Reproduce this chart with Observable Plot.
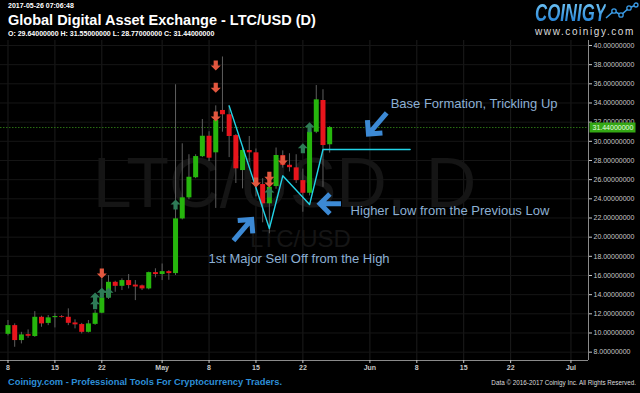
<!DOCTYPE html>
<html><head><meta charset="utf-8">
<script src="https://cdn.jsdelivr.net/npm/d3@7"></script>
<script src="https://cdn.jsdelivr.net/npm/@observablehq/plot@0.6"></script>
<style>
html,body{margin:0;padding:0;background:#000;}
#wrap{position:relative;width:640px;height:393px;overflow:hidden;background:#000;font-family:"Liberation Sans",Arial,sans-serif;color:#fff;}
#wrap div.t{position:absolute;white-space:nowrap;line-height:1;}
#ts{left:8px;top:2px;font-size:7px;font-weight:bold;}
#title{left:8px;top:13px;font-size:14.5px;font-weight:bold;}
#ohlc{left:8px;top:30px;font-size:7px;font-weight:bold;}
#logo{left:535px;top:1px;font-size:24px;font-weight:bold;font-style:italic;transform:scaleX(0.7);transform-origin:0 0;
 background:linear-gradient(#74c8f7,#1b7ad2);-webkit-background-clip:text;background-clip:text;color:transparent;}
#www{left:535px;top:27px;font-size:10px;letter-spacing:1.6px;color:#ddd;}
#icon{position:absolute;left:603px;top:2px;}
#chart{position:absolute;left:0;top:40px;}
#foot1{left:8px;top:378px;font-size:9.3px;font-weight:bold;color:#2d8fd8;}
#foot2{right:4px;top:380px;font-size:6.3px;color:#ddd;}
</style></head><body>
<div id="wrap">
 <div class="t" id="ts">2017-05-26 07:06:48</div>
 <div class="t" id="title">Global Digital Asset Exchange - LTC/USD (D)</div>
 <div class="t" id="ohlc"></div>
 <div class="t" id="logo">COINIGY</div>
 <svg id="icon" width="36" height="20"><polyline points="3,16 11,9 18,13 26,6 33,3" fill="none" stroke="#3a9be6" stroke-width="1.5"/><g fill="#000" stroke="#3a9be6" stroke-width="1.3"><circle cx="11" cy="9" r="2.2"/><circle cx="18" cy="13" r="2.2"/><circle cx="26" cy="6" r="2.2"/><circle cx="33" cy="3" r="2"/></g></svg>
 <div class="t" id="www">www.coinigy.com</div>
 <div id="chart"></div>
 <div class="t" id="foot1">Coinigy.com - Professional Tools For Cryptocurrency Traders.</div>
 <div class="t" id="foot2">Data © 2016-2017 Coinigy Inc. All Rights Reserved.</div>
</div>
<script>
// ---- daily candles (LTC/USD) ----
const dates = ["2017-04-08","2017-04-09","2017-04-10","2017-04-11","2017-04-12","2017-04-13","2017-04-14","2017-04-15","2017-04-16","2017-04-17","2017-04-18","2017-04-19","2017-04-20","2017-04-21","2017-04-22","2017-04-23","2017-04-24","2017-04-25","2017-04-26","2017-04-27","2017-04-28","2017-04-29","2017-04-30","2017-05-01","2017-05-02","2017-05-03","2017-05-04","2017-05-05","2017-05-06","2017-05-07","2017-05-08","2017-05-09","2017-05-10","2017-05-11","2017-05-12","2017-05-13","2017-05-14","2017-05-15","2017-05-16","2017-05-17","2017-05-18","2017-05-19","2017-05-20","2017-05-21","2017-05-22","2017-05-23","2017-05-24","2017-05-25","2017-05-26"];
const opens  = [9.86,10.77,9.21,9.83,9.63,11.64,11.00,11.60,11.70,11.64,11.05,10.88,10.07,10.90,12.06,13.66,15.29,14.87,15.47,15.00,14.92,14.60,16.30,16.10,16.40,16.20,21.90,24.10,26.20,28.40,30.53,28.80,33.22,32.77,30.60,26.95,29.04,28.80,25.49,23.48,25.28,28.50,27.50,27.23,25.90,24.58,30.95,34.26,29.64];
const highs  = [11.30,10.95,10.07,10.32,12.23,11.75,11.82,12.06,11.82,12.52,11.37,11.00,11.30,12.34,15.65,15.99,15.40,15.65,16.10,15.47,15.00,16.35,16.70,17.20,16.50,35.90,29.74,28.60,28.60,32.28,31.00,33.70,38.80,33.70,30.70,29.40,30.50,29.20,26.10,25.70,29.30,29.00,28.70,28.60,27.10,31.50,35.82,35.38,31.55];
const lows   = [9.70,8.51,8.86,9.45,9.55,10.60,10.77,10.53,11.55,10.77,10.43,9.90,10.00,10.80,12.00,13.50,14.25,14.43,14.60,13.38,14.43,14.50,15.75,15.47,15.50,16.00,21.80,23.90,26.10,28.30,27.89,23.00,30.95,28.30,25.60,25.04,27.80,24.20,21.50,20.35,25.00,27.20,26.80,25.60,22.60,24.30,30.80,25.20,28.77];
const closes = [10.77,9.21,9.80,9.66,11.64,10.95,11.58,11.72,11.62,11.01,10.85,10.07,10.95,12.06,13.66,15.29,14.87,15.47,14.95,14.80,14.60,16.30,16.10,16.40,16.20,21.91,24.10,26.25,28.41,30.53,28.24,32.17,32.77,30.50,27.13,29.04,28.80,25.50,23.48,25.21,28.52,27.50,27.25,25.90,24.58,30.95,34.33,29.56,31.44];

// ---- buy / sell signal arrows ----
const sigDates  = ["2017-04-22","2017-05-09","2017-05-09","2017-05-09","2017-05-15","2017-05-17","2017-05-17","2017-05-19",
                   "2017-04-21","2017-04-21","2017-04-22","2017-04-23","2017-05-03","2017-05-17","2017-05-22","2017-05-23"];
const sigValues = [16.2,37.9,35.6,32.6,25.7,26.3,25.7,28.0,
                   13.0,13.7,14.2,14.2,23.4,24.65,29.28,31.47];
const sigTypes  = ["sell","sell","sell","sell","sell","sell","sell","sell",
                   "buy","buy","buy","buy","buy","buy","buy","buy"];

// ---- hand-drawn trend line ----
const trendDates  = ["2017-05-11","2017-05-17","2017-05-19","2017-05-23","2017-05-25","2017-06-07"];
const trendValues = [33.7,20.9,26.4,23.4,29.15,29.15];

// ---- annotations ----
const noteTexts  = ["Base Formation, Trickling Up","Higher Low from the Previous Low","1st Major Sell Off from the High"];
const noteDates  = ["2017-06-04T02:24Z","2017-05-29T03:00Z","2017-05-07T22:00Z"];
const noteValues = [33.9,22.72,17.77];
const pointerDates  = ["2017-06-02T03:36Z","2017-05-26T03:00Z","2017-05-13T00:00Z"];
const pointerValues = [31.86,23.48,20.74];
const pointerAngles = [130.7,180,-49.4];

// ---- axes ----
const xTickDates  = ["2017-04-08","2017-04-15","2017-04-22","2017-05-01","2017-05-08","2017-05-15","2017-05-22","2017-06-01","2017-06-08","2017-06-15","2017-06-22","2017-07-01"];
const xTickLabels = ["8","15","22","May","8","15","22","Jun","8","15","22","Jul"];
const yTicks = [8,10,12,14,16,18,20,22,24,26,28,30,32,34,36,38,40];

const fmt8 = d3.format(".8f");
const candles = dates.map((d,i)=>({date:new Date(d),open:opens[i],high:highs[i],low:lows[i],close:closes[i]}));
const last = candles[candles.length-1];
document.getElementById("ohlc").textContent =
  `O: ${fmt8(last.open)} H: ${fmt8(last.high)} L: ${fmt8(last.low)} C: ${fmt8(last.close)}`;

const signals = sigDates.map((d,i)=>({date:new Date(d),value:sigValues[i],type:sigTypes[i]}));
const trend = trendDates.map((d,i)=>({date:new Date(d),value:trendValues[i]}));
const notes = noteTexts.map((t,i)=>({text:t,date:new Date(noteDates[i]),value:noteValues[i]}));
const pointers = pointerDates.map((d,i)=>({date:new Date(d),value:pointerValues[i],angle:pointerAngles[i]}));
const xTicks = xTickDates.map(d=>new Date(d));
const xLabel = new Map(xTicks.map((d,i)=>[+d,xTickLabels[i]]));

const DAY = 864e5;
const t0 = Date.UTC(2017,3,8);
const xDomain = [new Date(t0-1.119*DAY), new Date(t0+86.62*DAY)];
const yDomain = [7.13, 40.52];

function arrowSym(dir){ // small signal arrows
  return {draw(ctx,size){
    const r=Math.sqrt(size/Math.PI), w=r*0.42, s=dir;
    ctx.moveTo(-w,-r*s); ctx.lineTo(w,-r*s); ctx.lineTo(w,0); ctx.lineTo(r,0);
    ctx.lineTo(0,r*s); ctx.lineTo(-r,0); ctx.lineTo(-w,0); ctx.closePath();
  }};
}
function pointerSym(deg,len,wing){ // chunky annotation arrows
  const a=deg*Math.PI/180,c=Math.cos(a),s=Math.sin(a);
  const P=(x,y)=>[x*c-y*s,x*s+y*c];
  return {draw(ctx){
    const h=len/2,w=wing*Math.SQRT1_2;
    ctx.moveTo(...P(-h,0)); ctx.lineTo(...P(h-2,0));
    ctx.moveTo(...P(h-w,-w)); ctx.lineTo(...P(h,0)); ctx.lineTo(...P(h-w,w));
  }};
}
const tagSym = {draw(ctx){ctx.rect(1,-5,46,10);}};

const chart = Plot.plot({
  width:640, height:332,
  marginLeft:0, marginRight:52, marginTop:0, marginBottom:12,
  style:{background:"#000", color:"#bbb", fontFamily:"Liberation Sans, Arial, sans-serif", fontSize:"7px", overflow:"visible"},
  x:{type:"utc", domain:xDomain},
  y:{domain:yDomain},
  marks:[
    Plot.gridX(xTicks,{stroke:"#1c1c1c",strokeOpacity:1}),
    Plot.gridY(yTicks,{stroke:"#161616",strokeOpacity:1}),
    Plot.text(["LTC/USD, D"],{text:d=>d,frameAnchor:"middle",dx:-10,dy:-16,fontSize:70,fill:"#151515"}),
    Plot.text(["LTC/USD"],{text:d=>d,frameAnchor:"middle",dx:6,dy:39,fontSize:24,fill:"#151515"}),
    Plot.ruleY([last.close],{stroke:"#2b6e14",strokeDasharray:"1.5,1.5"}),
    Plot.ruleX(candles,{x:"date",y1:"low",y2:"high",stroke:"#5e5e5e",strokeWidth:1}),
    Plot.ruleX(candles,{x:"date",y1:"open",y2:"close",strokeWidth:5,
      stroke:d=>d.close>=d.open?"#26b60d":"#e8151c"}),
    Plot.line(trend,{x:"date",y:"value",stroke:"#22d3e6",strokeWidth:1.4}),
    Plot.dot(signals.filter(d=>d.type==="sell"),{x:"date",y:"value",r:5,symbol:arrowSym(1),fill:"#e2573f",stroke:null}),
    Plot.dot(signals.filter(d=>d.type==="buy"),{x:"date",y:"value",r:5,symbol:arrowSym(-1),fill:"#2e7b57",stroke:null}),
    ...pointers.map(p=>Plot.dot([p],{x:"date",y:"value",symbol:pointerSym(p.angle,p.angle===180?21:28,14),
      fill:"none",stroke:"#3c89d4",strokeWidth:5,strokeLinejoin:"miter",strokeLinecap:"butt"})),
    Plot.text(notes,{x:"date",y:"value",text:"text",textAnchor:"start",fontSize:13,fill:"#8db0d4"}),
    Plot.ruleY([yDomain[0]],{stroke:"#8a8a8a"}),
    Plot.ruleX([xDomain[1]],{stroke:"#8a8a8a"}),
    Plot.axisX({ticks:xTicks,tickFormat:d=>xLabel.get(+d),tickSize:3,tickPadding:2,color:"#c8c8c8",fontWeight:"bold",fontSize:7}),
    Plot.axisY({anchor:"right",ticks:yTicks,tickFormat:fmt8,tickSize:3,tickPadding:2,color:"#c8c8c8",fontSize:7}),
    Plot.dot([last.close],{y:d=>d,frameAnchor:"right",symbol:tagSym,fill:"#34a814",stroke:null}),
    Plot.text([last.close],{y:d=>d,frameAnchor:"right",text:d=>fmt8(d),dx:4,textAnchor:"start",fontSize:7,fill:"#eaffe4"})
  ]
});
document.getElementById("chart").appendChild(chart);
</script>
</body></html>
